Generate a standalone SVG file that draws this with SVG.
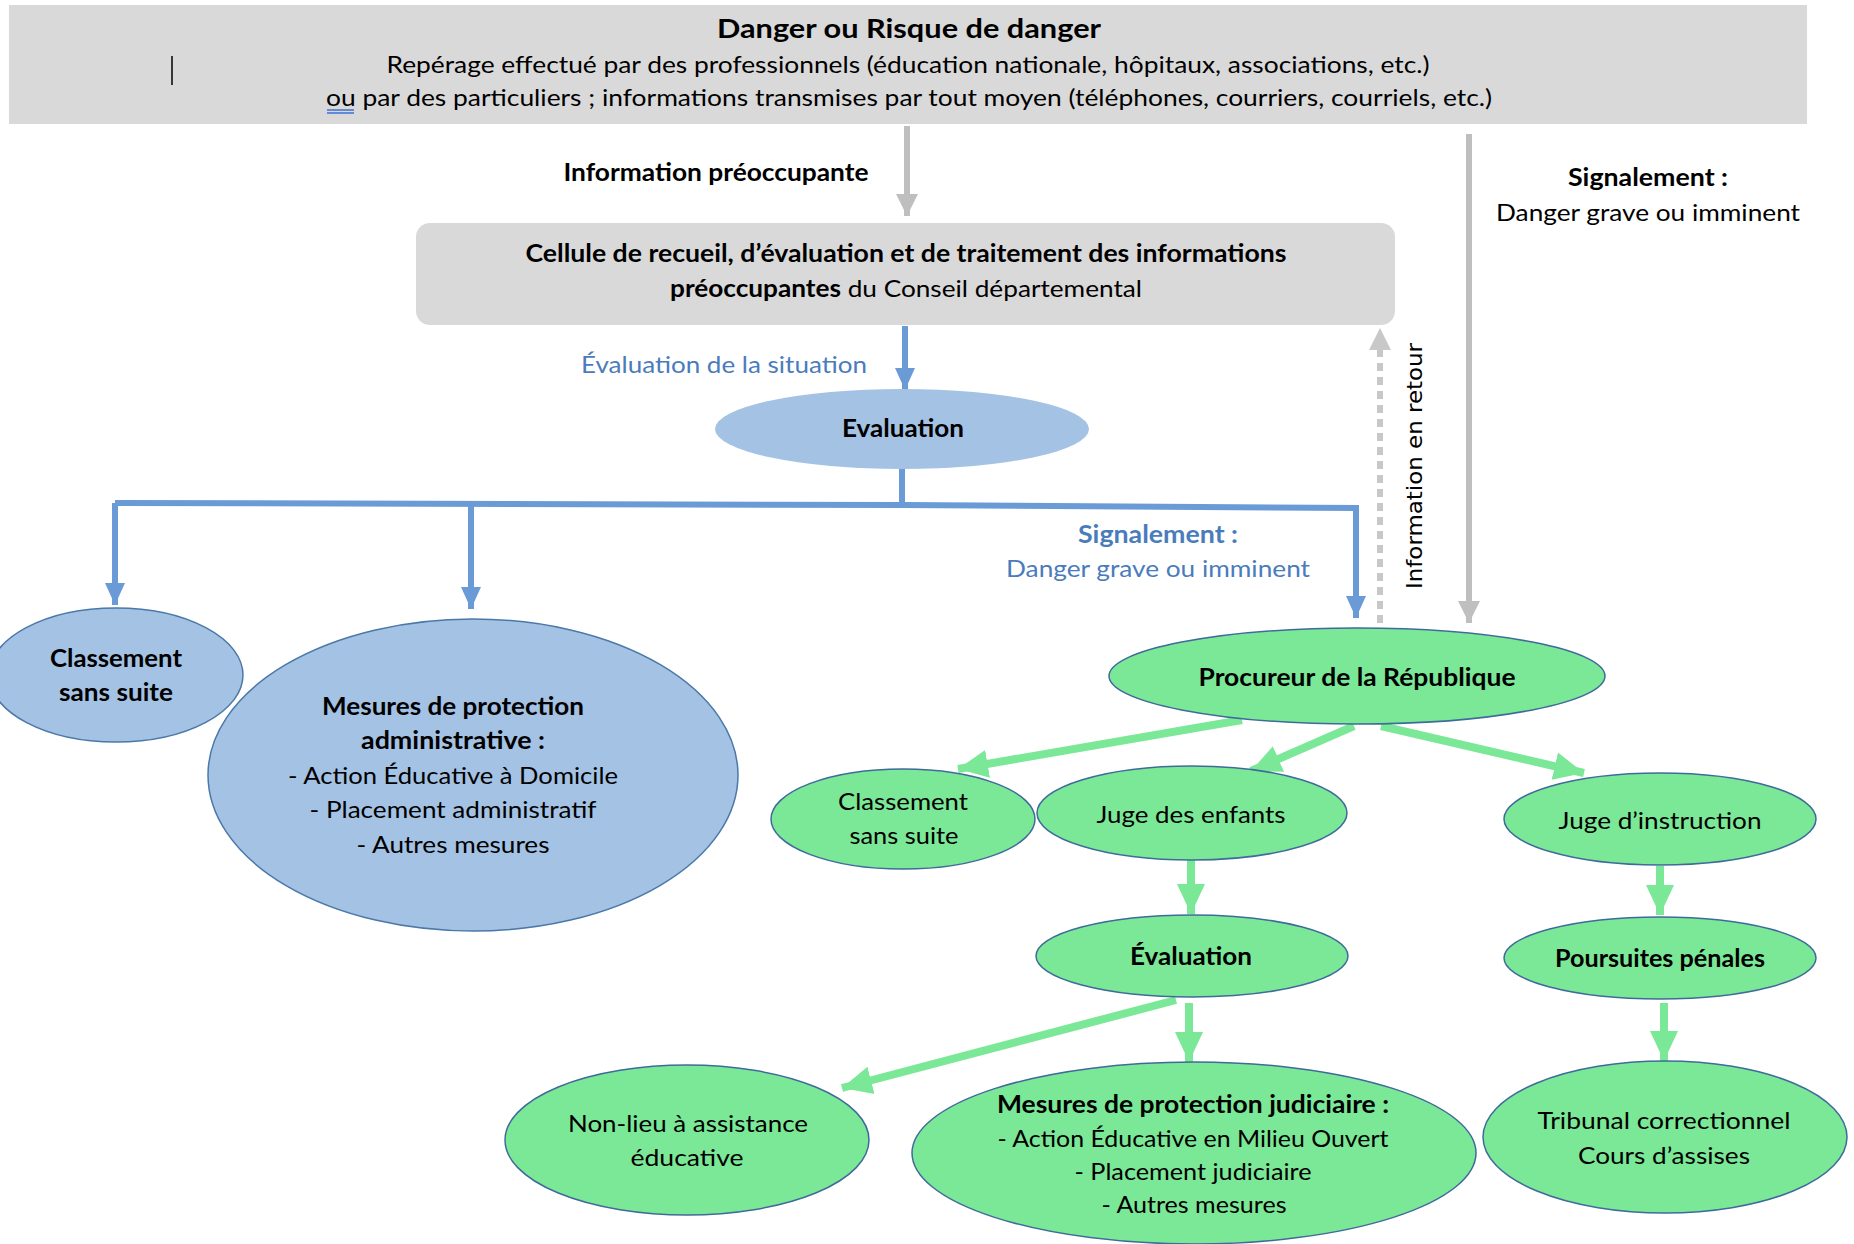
<svg xmlns="http://www.w3.org/2000/svg" width="1854" height="1244" viewBox="0 0 1854 1244">
<defs>
<style>
text{font-family:Lato,"Open Sans","Liberation Sans",sans-serif;font-size:24px;fill:#000;text-anchor:middle}
.b{font-weight:bold}
.bt{fill:#4a7cbc}
.vt{font-family:"DejaVu Sans",Verdana,sans-serif;font-size:21px}
.box{fill:#d9d9d9}
.eb{fill:#a4c2e4;stroke:#4a78a8;stroke-width:1.5}
.eg{fill:#7be897;stroke:#3e6b9a;stroke-width:1.5}
.cg{stroke:#bfbfbf;stroke-width:6;fill:none}
.cb{stroke:#6a9bd6;stroke-width:6;fill:none}
.cgr{stroke:#7be897;stroke-width:8;fill:none}
</style>
<marker id="mg" markerUnits="userSpaceOnUse" markerWidth="24" markerHeight="24" viewBox="0 0 24 24" refX="22" refY="12" orient="auto"><path d="M0,1 L22,12 L0,23 Z" fill="#bfbfbf"/></marker>
<marker id="mb" markerUnits="userSpaceOnUse" markerWidth="24" markerHeight="24" viewBox="0 0 24 24" refX="22" refY="12" orient="auto"><path d="M0,2 L22,12 L0,22 Z" fill="#6a9bd6"/></marker>
<marker id="mgr" markerUnits="userSpaceOnUse" markerWidth="32" markerHeight="32" viewBox="0 0 32 32" refX="30" refY="16" orient="auto"><path d="M0,2 L30,16 L0,30 Z" fill="#7be897"/></marker>
</defs>
<rect width="1854" height="1244" fill="#fff"/>

<g id="connectors">
<line class="cg" x1="907" y1="126" x2="907" y2="216" marker-end="url(#mg)"/>
<line class="cg" x1="1469" y1="134" x2="1469" y2="623" marker-end="url(#mg)"/>
<line x1="1380" y1="623" x2="1380" y2="350" stroke="#c8c8c8" stroke-width="6" stroke-dasharray="8,6"/>
<path d="M1369,350 L1380,328 L1391,350 Z" fill="#c8c8c8"/>
<line class="cb" x1="905" y1="326" x2="905" y2="390" marker-end="url(#mb)"/>
<polyline class="cb" points="902,468 902,505"/>
<path class="cb" d="M115,503 L902,505 L1356,508 L1356,618" marker-end="url(#mb)"/>
<line class="cb" x1="115" y1="503" x2="115" y2="605" marker-end="url(#mb)"/>
<line class="cb" x1="471" y1="504" x2="471" y2="609" marker-end="url(#mb)"/>
<line class="cgr" x1="1242" y1="720" x2="958" y2="769" marker-end="url(#mgr)"/>
<line class="cgr" x1="1354" y1="726" x2="1251" y2="771" marker-end="url(#mgr)"/>
<line class="cgr" x1="1381" y1="726" x2="1584" y2="773" marker-end="url(#mgr)"/>
<line class="cgr" x1="1191" y1="860" x2="1191" y2="914" marker-end="url(#mgr)"/>
<line class="cgr" x1="1660" y1="866" x2="1660" y2="915" marker-end="url(#mgr)"/>
<line class="cgr" x1="1176" y1="1000" x2="842" y2="1088" marker-end="url(#mgr)"/>
<line class="cgr" x1="1189" y1="1003" x2="1189" y2="1062" marker-end="url(#mgr)"/>
<line class="cgr" x1="1664" y1="1003" x2="1664" y2="1061" marker-end="url(#mgr)"/>
</g>

<g id="labels">
<text class="b" x="716" y="181" textLength="305" lengthAdjust="spacingAndGlyphs">Information préoccupante</text>
<text class="b" x="1648" y="186" textLength="160" lengthAdjust="spacingAndGlyphs">Signalement :</text>
<text x="1648" y="221" textLength="304" lengthAdjust="spacingAndGlyphs">Danger grave ou imminent</text>
<text class="bt" x="724" y="373" textLength="286" lengthAdjust="spacingAndGlyphs">Évaluation de la situation</text>
<text class="b bt" x="1158" y="543" textLength="160" lengthAdjust="spacingAndGlyphs">Signalement :</text>
<text class="bt" x="1158" y="577" textLength="304" lengthAdjust="spacingAndGlyphs">Danger grave ou imminent</text>
<text class="vt" transform="translate(1422,466) rotate(-90)" x="0" y="0" textLength="246" lengthAdjust="spacingAndGlyphs">Information  en retour</text>
</g>

<g id="danger">
<rect class="box" x="9" y="5" width="1798" height="119"/>
<text class="b" x="909" y="38" style="font-size:27px" textLength="384" lengthAdjust="spacingAndGlyphs">Danger ou Risque de danger</text>
<text x="908" y="73" textLength="1043" lengthAdjust="spacingAndGlyphs">Repérage effectué par des professionnels (éducation nationale, hôpitaux, associations, etc.)</text>
<text x="909" y="106" textLength="1166" lengthAdjust="spacingAndGlyphs">ou par des particuliers ; informations transmises par tout moyen (téléphones, courriers, courriels, etc.)</text>
<line x1="327" y1="110" x2="354" y2="110" stroke="#3b6fd4" stroke-width="1.5"/>
<line x1="327" y1="113" x2="354" y2="113" stroke="#3b6fd4" stroke-width="1.5"/>
<line x1="172" y1="56" x2="172" y2="85" stroke="#000" stroke-width="1.5"/>
</g>

<g id="cellule">
<rect class="box" x="416" y="223" width="979" height="102" rx="14"/>
<text class="b" x="906" y="262" textLength="761" lengthAdjust="spacingAndGlyphs">Cellule de recueil, d’évaluation et de traitement des informations</text>
<text x="906" y="297" textLength="472" lengthAdjust="spacingAndGlyphs"><tspan class="b">préoccupantes</tspan> du Conseil départemental</text>
</g>

<g id="evaluation">
<ellipse cx="902" cy="429" rx="187" ry="40" fill="#a4c2e4"/>
<text class="b" x="903" y="437" textLength="122" lengthAdjust="spacingAndGlyphs">Evaluation</text>
</g>

<g id="classement-admin">
<ellipse class="eb" cx="116" cy="675" rx="127" ry="67"/>
<text class="b" x="116" y="667" textLength="132" lengthAdjust="spacingAndGlyphs">Classement</text>
<text class="b" x="116" y="701" textLength="114" lengthAdjust="spacingAndGlyphs">sans suite</text>
</g>

<g id="mesures-admin">
<ellipse class="eb" cx="473" cy="775" rx="265" ry="156"/>
<text class="b" x="453" y="715" textLength="262" lengthAdjust="spacingAndGlyphs">Mesures de protection</text>
<text class="b" x="453" y="749" textLength="184" lengthAdjust="spacingAndGlyphs">administrative :</text>
<text x="453" y="784" textLength="330" lengthAdjust="spacingAndGlyphs">- Action Éducative à Domicile</text>
<text x="453" y="818" textLength="287" lengthAdjust="spacingAndGlyphs">- Placement administratif</text>
<text x="453" y="853" textLength="193" lengthAdjust="spacingAndGlyphs">- Autres mesures</text>
</g>

<g id="procureur">
<ellipse class="eg" cx="1357" cy="676" rx="248" ry="48"/>
<text class="b" x="1357" y="686" textLength="317" lengthAdjust="spacingAndGlyphs">Procureur de la République</text>
</g>

<g id="classement-judiciaire">
<ellipse class="eg" cx="903" cy="819" rx="132" ry="50"/>
<text x="903" y="810" textLength="130" lengthAdjust="spacingAndGlyphs">Classement</text>
<text x="904" y="844" textLength="109" lengthAdjust="spacingAndGlyphs">sans suite</text>
</g>

<g id="juge-enfants">
<ellipse class="eg" cx="1192" cy="813" rx="155" ry="47"/>
<text x="1191" y="823" textLength="189" lengthAdjust="spacingAndGlyphs">Juge des enfants</text>
</g>

<g id="juge-instruction">
<ellipse class="eg" cx="1660" cy="819" rx="156" ry="46"/>
<text x="1660" y="829" textLength="203" lengthAdjust="spacingAndGlyphs">Juge d’instruction</text>
</g>

<g id="evaluation-judiciaire">
<ellipse class="eg" cx="1192" cy="956" rx="156" ry="41"/>
<text class="b" x="1191" y="965" textLength="122" lengthAdjust="spacingAndGlyphs">Évaluation</text>
</g>

<g id="poursuites">
<ellipse class="eg" cx="1660" cy="958" rx="156" ry="41"/>
<text class="b" x="1660" y="967" textLength="210" lengthAdjust="spacingAndGlyphs">Poursuites pénales</text>
</g>

<g id="non-lieu">
<ellipse class="eg" cx="687" cy="1140" rx="182" ry="75"/>
<text x="688" y="1132" textLength="240" lengthAdjust="spacingAndGlyphs">Non-lieu à assistance</text>
<text x="687" y="1166" textLength="113" lengthAdjust="spacingAndGlyphs">éducative</text>
</g>

<g id="mesures-judiciaire">
<ellipse class="eg" cx="1194" cy="1153" rx="282" ry="91"/>
<text class="b" x="1193" y="1113" textLength="392" lengthAdjust="spacingAndGlyphs">Mesures de protection judiciaire :</text>
<text x="1193" y="1147" textLength="391" lengthAdjust="spacingAndGlyphs">-  Action Éducative en Milieu Ouvert</text>
<text x="1193" y="1180" textLength="237" lengthAdjust="spacingAndGlyphs">- Placement judiciaire</text>
<text x="1194" y="1213" textLength="185" lengthAdjust="spacingAndGlyphs">- Autres mesures</text>
</g>

<g id="tribunal">
<ellipse class="eg" cx="1665" cy="1137" rx="182" ry="76"/>
<text x="1664" y="1129" textLength="253" lengthAdjust="spacingAndGlyphs">Tribunal correctionnel</text>
<text x="1664" y="1164" textLength="172" lengthAdjust="spacingAndGlyphs">Cours d’assises</text>
</g>
</svg>
